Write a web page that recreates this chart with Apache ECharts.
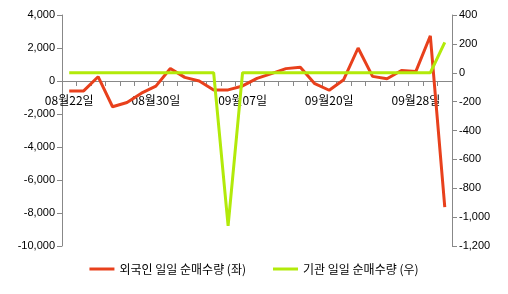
<!DOCTYPE html>
<html><head><meta charset="utf-8">
<script src="https://cdn.jsdelivr.net/npm/echarts@6/dist/echarts.min.js"></script>
<style>html,body{margin:0;padding:0;background:#fff}#c{width:508px;height:294px}</style>
</head><body><div id="c"></div>
<script>
const categories = ['08월22일','08월23일','08월24일','08월25일','08월26일','08월29일','08월30일','08월31일','09월01일','09월02일','09월05일','09월06일','09월07일','09월08일','09월09일','09월12일','09월13일','09월19일','09월20일','09월21일','09월22일','09월23일','09월26일','09월27일','09월28일','09월29일','09월30일'];
const foreignNet = [-600,-600,260,-1560,-1300,-740,-310,760,220,0,-540,-540,-300,160,450,750,840,-160,-560,80,2000,280,140,640,580,2740,-7650];
const instNet = [0,0,0,0,0,0,0,0,0,0,0,-1060,0,0,0,0,0,0,0,0,0,0,0,0,0,0,210];
const seriesNames = ['외국인 일일 순매수량 (좌)','기관 일일 순매수량 (우)'];
const colors = ['#E8401C','#B2EA0A'];
const fmt = v => v.toLocaleString('en-US');
const font = '"Liberation Sans", "Noto Sans CJK KR", sans-serif';
const cjk = '"Noto Sans CJK KR", sans-serif';
const chart = echarts.init(document.getElementById('c'));
chart.setOption({
  animation:false,
  textStyle:{fontFamily:font},
  grid:[{left:62,right:56,top:15,bottom:48},{left:62,right:56,top:15,height:66}],
  legend:{bottom:14,left:'center',icon:'rect',itemWidth:25,itemHeight:3,itemGap:27,
    textStyle:{fontSize:12,color:'#000',fontFamily:cjk},
    data:seriesNames},
  xAxis:[
    {type:'category',gridIndex:0,data:categories,boundaryGap:true,show:false},
    {type:'category',gridIndex:1,data:categories,boundaryGap:true,position:'bottom',z:0,
     axisLine:{show:true,onZero:false,lineStyle:{color:'#888'}},
     axisTick:{show:true,interval:0,length:5,lineStyle:{color:'#888'}},
     axisLabel:{interval:5,fontSize:12,color:'#000',margin:13,fontFamily:cjk},
     splitLine:{show:false}}
  ],
  yAxis:[
    {type:'value',gridIndex:0,min:-10000,max:4000,interval:2000,position:'left',
     axisLine:{show:true,lineStyle:{color:'#888'}},axisTick:{show:true,length:5,lineStyle:{color:'#888'}},
     axisLabel:{formatter:fmt,fontSize:11,color:'#000',margin:7},splitLine:{show:false}},
    {type:'value',gridIndex:0,min:-1200,max:400,interval:200,position:'right',
     axisLine:{show:true,lineStyle:{color:'#888'}},axisTick:{show:true,length:5,lineStyle:{color:'#888'}},
     axisLabel:{formatter:fmt,fontSize:11,color:'#000',margin:7},splitLine:{show:false}},
    {type:'value',gridIndex:1,min:0,max:1,show:false}
  ],
  series:[
    {name:seriesNames[0],type:'line',xAxisIndex:0,yAxisIndex:0,data:foreignNet,symbol:'none',
     lineStyle:{width:3,color:colors[0]},itemStyle:{color:colors[0]},z:2},
    {name:seriesNames[1],type:'line',xAxisIndex:0,yAxisIndex:1,data:instNet,symbol:'none',
     lineStyle:{width:3,color:colors[1]},itemStyle:{color:colors[1]},z:3}
  ]
});
</script></body></html>
